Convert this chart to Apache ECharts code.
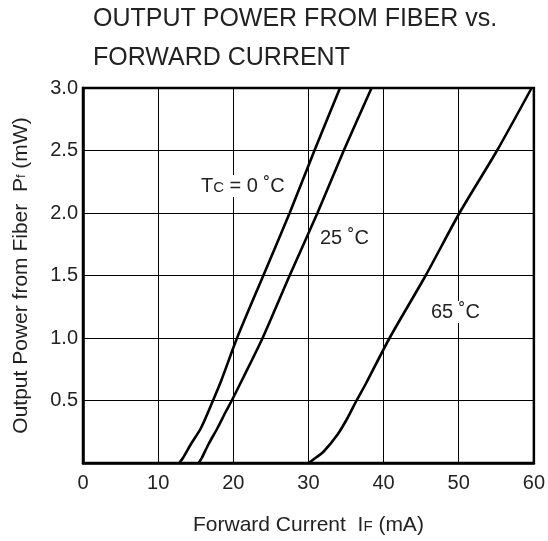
<!DOCTYPE html>
<html>
<head>
<meta charset="utf-8">
<script src="https://cdn.jsdelivr.net/npm/echarts@6/dist/echarts.min.js"></script>
<style>html,body{margin:0;padding:0;background:#fff;}#c{width:548px;height:541px;}</style>
</head>
<body>
<div id="c"></div>
<script>
// Data (Forward current mA, output power mW)
const xTicks = [0, 10, 20, 30, 40, 50, 60];
const yTicks = [0.5, 1.0, 1.5, 2.0, 2.5, 3.0];
const current0C  = [12.8, 13.3, 14.35, 15.7, 17.3, 18.4, 20.5, 24.0, 27.5, 30.8, 34.2];
const power0C    = [0,    0.04, 0.15,  0.28, 0.5,  0.66, 1.0,  1.5,  2.0,  2.5,  3.0];
const current25C = [15.4, 15.8, 16.7, 17.9, 19.0, 19.8, 21.3, 23.9, 27.5, 31.2, 34.7, 38.4];
const power25C   = [0,    0.04, 0.15, 0.28, 0.41, 0.5,  0.68, 1.0,  1.5,  2.0,  2.5,  3.0];
const current65C = [30.0, 30.7, 32.0, 33.9, 35.2, 36.4, 37.6, 40.8, 45.6, 50.1, 55.1, 59.7];
const power65C   = [0,    0.03, 0.09, 0.23, 0.36, 0.5,  0.63, 1.0,  1.5,  2.0,  2.5,  3.0];

const pairs = (xs, ys) => xs.map((x, i) => [x, ys[i]]);
const FONT = 'Liberation Sans, Arial, sans-serif';
const TXT = '#222';

const chart = echarts.init(document.getElementById('c'));
const lineSeries = (data) => ({
  type: 'line', data, smooth: 0.25, showSymbol: false,
  lineStyle: { color: '#000', width: 2.6 }, clip: true, z: 3
});

chart.setOption({
  animation: false,
  backgroundColor: '#fff',
  title: {
    text: 'OUTPUT POWER FROM FIBER vs.\nFORWARD CURRENT',
    left: 93, top: 0, padding: 0,
    textStyle: { fontFamily: FONT, fontSize: 25, fontWeight: 'normal', color: TXT, lineHeight: 39 }
  },
  grid: {
    left: 83, right: 11, top: 88, bottom: 76,
    show: true, borderColor: '#000', borderWidth: 2.5, backgroundColor: 'transparent'
  },
  xAxis: {
    type: 'value', min: 0, max: 60, interval: 10,
    name: '{n|Forward Current  I}{s|F}{n| (mA)}',
    nameLocation: 'middle', nameGap: 52,
    nameTextStyle: { rich: { n: { fontFamily: FONT, fontSize: 21, color: TXT }, s: { fontFamily: FONT, fontSize: 15, color: TXT, padding: [3, 0, 0, 0] } } },
    axisLine: { show: true, lineStyle: { color: '#000', width: 2.5 } },
    axisTick: { show: false },
    splitLine: { show: true, lineStyle: { color: '#000', width: 1 } },
    axisLabel: { fontFamily: FONT, fontSize: 20, color: TXT, margin: 10,
      formatter: v => xTicks.includes(v) ? String(v) : '' }
  },
  yAxis: {
    type: 'value', min: 0, max: 3, interval: 0.5,
    name: '{n|Output Power from Fiber  P}{s|f}{n| (mW)}',
    nameLocation: 'middle', nameGap: 51,
    nameTextStyle: { rich: { n: { fontFamily: FONT, fontSize: 21, color: TXT }, s: { fontFamily: FONT, fontSize: 13, color: TXT } } },
    axisLine: { show: true, lineStyle: { color: '#000', width: 2.5 } },
    axisTick: { show: false },
    splitLine: { show: true, lineStyle: { color: '#000', width: 1 } },
    axisLabel: { fontFamily: FONT, fontSize: 20, color: TXT, margin: 5, showMinLabel: false,
      formatter: v => yTicks.some(t => Math.abs(t - v) < 1e-9) ? v.toFixed(1) : '' }
  },
  series: [
    lineSeries(pairs(current0C, power0C)),
    lineSeries(pairs(current25C, power25C)),
    lineSeries(pairs(current65C, power65C))
  ],
  graphic: [
    { type: 'text', left: 198, top: 175, z: 10,
      style: { text: '{a|T}{b|C}{a| = 0 ˚C}', backgroundColor: '#fff', padding: [1, 3],
        rich: { a: { fontFamily: FONT, fontSize: 20, fill: TXT }, b: { fontFamily: FONT, fontSize: 15, fill: TXT, padding: [3, 0, 0, 0] } } } },
    { type: 'text', left: 317, top: 227, z: 10,
      style: { text: '25 ˚C', font: '20px ' + FONT, fill: TXT, backgroundColor: '#fff', padding: [1, 3] } },
    { type: 'text', left: 428, top: 301, z: 10,
      style: { text: '65 ˚C', font: '20px ' + FONT, fill: TXT, backgroundColor: '#fff', padding: [1, 3] } }
  ]
});
</script>
</body>
</html>
